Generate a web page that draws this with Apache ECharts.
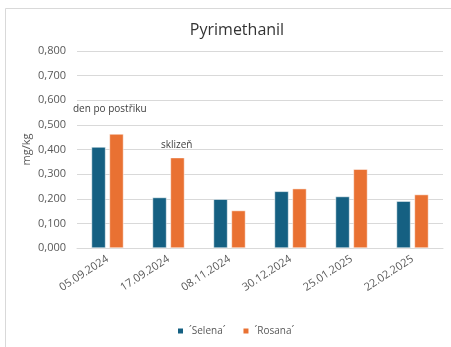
<!DOCTYPE html>
<html>
<head>
<meta charset="utf-8">
<script src="https://cdn.jsdelivr.net/npm/echarts@6/dist/echarts.min.js"></script>
<style>
  html, body { margin: 0; padding: 0; background: #fff; }
  #chart { width: 451px; height: 347px; }
</style>
</head>
<body>
<div id="chart"></div>
<script>
// Sampling dates and measured Pyrimethanil residues (mg/kg) per variety
const dates = ['05.09.2024', '17.09.2024', '08.11.2024', '30.12.2024', '25.01.2025', '22.02.2025'];
const selena = [0.410, 0.205, 0.198, 0.230, 0.209, 0.190];
const rosana = [0.463, 0.367, 0.152, 0.241, 0.320, 0.217];
const seriesNames = ['´Selena´', '´Rosana´'];

const FONT = '"Open Sans", "Liberation Sans", sans-serif';
const chart = echarts.init(document.getElementById('chart'), null, { renderer: 'canvas' });

chart.setOption({
  backgroundColor: '#ffffff',
  animation: false,
  textStyle: { fontFamily: FONT },
  title: {
    text: 'Pyrimethanil',
    left: 232,
    top: 17,
    textAlign: 'center',
    textStyle: { fontFamily: FONT, fontSize: 16, fontWeight: 'normal', color: '#333333' }
  },
  grid: { left: 77, right: 8, top: 51, bottom: 99, containLabel: false },
  legend: {
    data: seriesNames,
    left: 171,
    bottom: 6,
    icon: 'rect',
    itemWidth: 7,
    itemHeight: 7,
    itemGap: 16,
    textStyle: { fontFamily: FONT, fontSize: 10, color: '#595959' }
  },
  xAxis: {
    type: 'category',
    data: dates,
    axisLine: { show: true, lineStyle: { color: '#d9d9d9', width: 1 } },
    axisTick: { show: false },
    axisLabel: {
      rotate: 33,
      margin: 10,
      fontFamily: FONT,
      fontSize: 11,
      color: '#595959',
      interval: 0
    }
  },
  yAxis: {
    type: 'value',
    min: 0,
    max: 0.8,
    interval: 0.1,
    name: 'mg/kg',
    nameLocation: 'middle',
    nameGap: 45,
    nameMoveOverlap: false,
    nameRotate: 90,
    nameTextStyle: { fontFamily: FONT, fontSize: 11, color: '#595959' },
    axisLine: { show: false },
    axisTick: { show: false },
    splitLine: { lineStyle: { color: '#d9d9d9', width: 1 } },
    axisLabel: {
      margin: 11,
      fontFamily: FONT,
      fontSize: 11,
      color: '#595959',
      formatter: v => v.toFixed(3).replace('.', ',')
    }
  },
  series: [
    {
      name: seriesNames[0],
      type: 'bar',
      data: selena,
      barWidth: 14,
      barGap: '28%',
      itemStyle: { color: '#156082', borderColor: '#ffffff', borderWidth: 0.5 }
    },
    {
      name: seriesNames[1],
      type: 'bar',
      data: rosana,
      barWidth: 14,
      itemStyle: { color: '#E97132', borderColor: '#ffffff', borderWidth: 0.5 }
    }
  ],
  graphic: [
    {
      type: 'rect',
      shape: { x: 5.5, y: 8.5, width: 460, height: 360 },
      style: { fill: 'none', stroke: '#d9d9d9', lineWidth: 1 },
      silent: true
    },
    {
      type: 'text',
      left: 73,
      top: 104,
      style: { text: 'den po postřiku', fontFamily: FONT, fontSize: 10, fill: '#404040' }
    },
    {
      type: 'text',
      left: 161,
      top: 140,
      style: { text: 'sklizeň', fontFamily: FONT, fontSize: 10, fill: '#404040' }
    }
  ]
});
</script>
</body>
</html>
